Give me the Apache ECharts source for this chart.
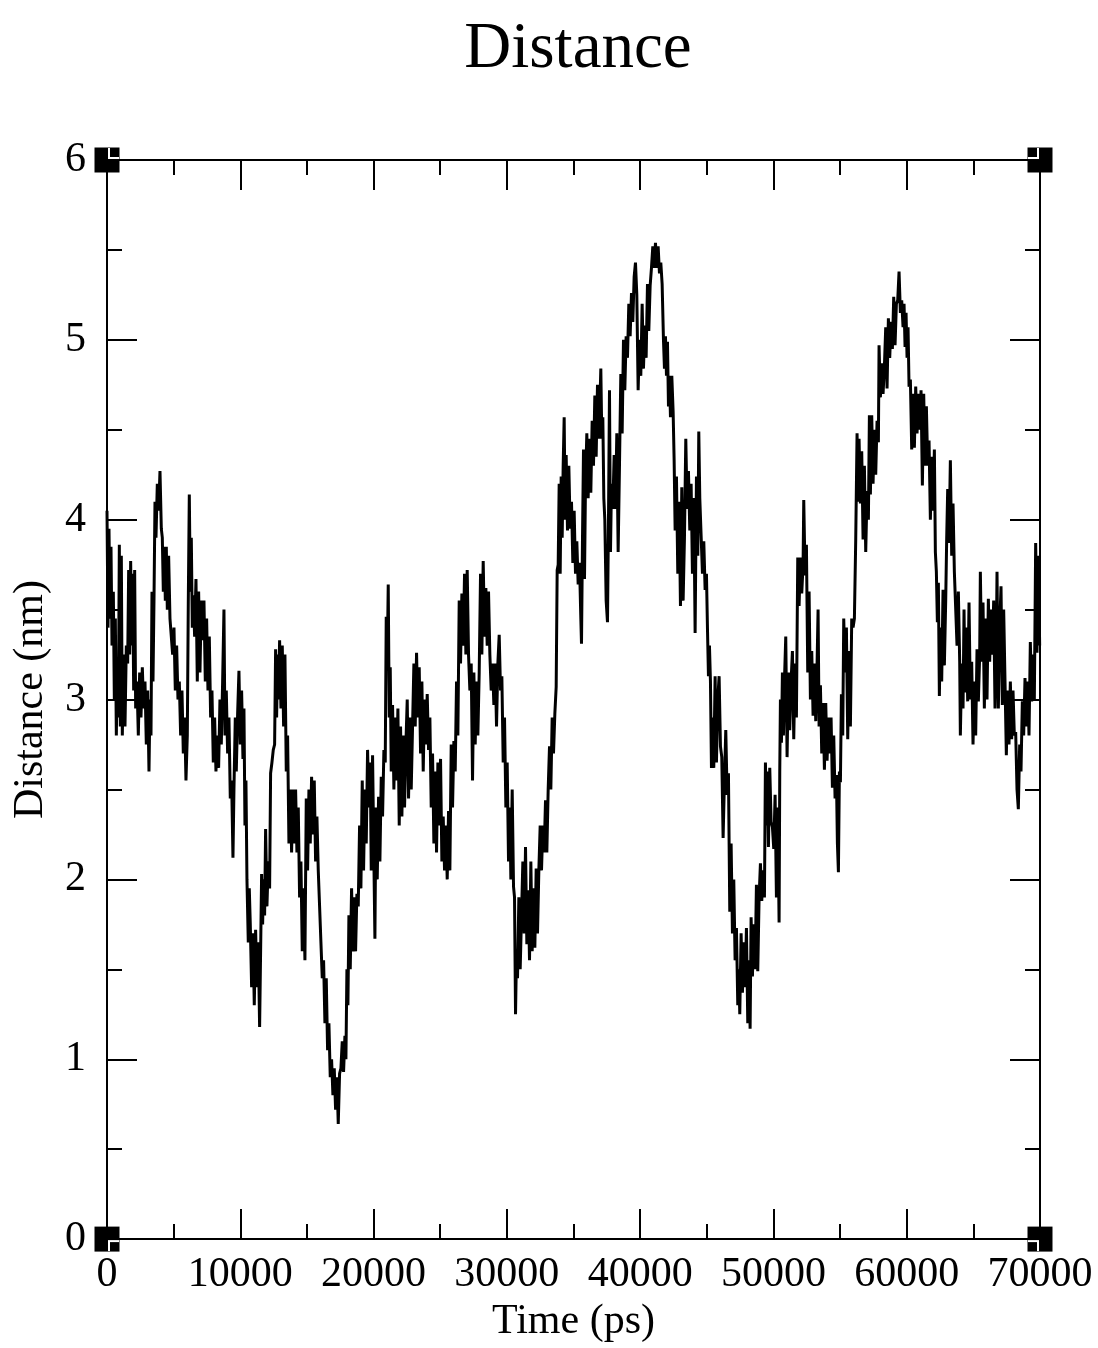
<!DOCTYPE html>
<html>
<head>
<meta charset="utf-8">
<script src="https://cdn.jsdelivr.net/npm/echarts@6/dist/echarts.min.js"></script>
<style>html,body{margin:0;padding:0;background:#fff;}#c{width:1098px;height:1348px;}</style>
</head>
<body>
<div id="c"></div>
<script>
const titleText = 'Distance';
const xAxisName = 'Time (ps)';
const yAxisName = 'Distance (nm)';
const xTicks = [0, 70000, 10000];
const yTicks = [0, 6, 1];

// [time (ps), distance (nm)], by 10 ns window
const seg0 = [[0,4.05],[75,3.4],[150,3.95],[225,3.45],[300,3.85],[375,3.3],[475,3.6],[550,3.0],[625,3.45],[700,2.8],[775,3.2],[850,2.9],[925,3.86],[1000,2.85],[1075,3.8],[1150,2.8],[1250,3.25],[1350,2.85],[1450,3.3],[1550,3.2],[1625,3.72],[1700,3.25],[1775,3.77],[1850,3.3],[1925,3.7],[2000,3.05],[2075,3.72],[2150,2.95],[2250,3.1],[2350,2.8],[2450,3.15],[2550,2.9],[2650,3.18],[2750,2.95],[2850,3.1],[2950,2.75],[3050,3.05],[3150,2.6],[3225,3.0],[3300,2.8],[3375,3.6],[3450,3.1],[3525,3.55],[3600,4.1],[3675,3.9],[3775,4.2],[3875,4.05],[3975,4.27],[4075,3.95],[4150,3.9],[4225,3.6],[4300,3.85],[4375,3.55],[4450,3.85],[4525,3.5],[4625,3.8],[4725,3.45],[4825,3.45],[4925,3.25],[5025,3.4],[5125,3.05],[5225,3.3],[5325,3.0],[5425,3.1],[5525,2.8],[5625,3.05],[5725,2.7],[5825,2.9],[5925,2.55],[6025,2.8],[6100,3.55],[6175,4.14],[6250,3.6],[6325,3.9],[6400,3.4],[6475,3.58],[6575,3.35],[6675,3.67],[6775,3.1],[6875,3.6],[6975,3.15],[7075,3.55],[7175,3.33],[7275,3.55],[7375,3.1],[7475,3.45],[7575,3.05],[7675,3.35],[7775,2.9],[7875,3.05],[7975,2.65],[8075,2.9],[8175,2.6],[8275,2.8],[8375,2.62],[8475,3.0],[8575,2.75],[8675,3.1],[8775,3.5],[8850,2.8],[8950,3.05],[9050,2.7],[9150,2.9],[9250,2.45],[9350,2.55],[9450,2.12],[9525,2.5],[9625,2.9]];
const seg1 = [[9700,2.6],[9800,2.92],[9900,3.16],[10000,2.75],[10100,3.05],[10200,2.67],[10275,2.95],[10350,2.3],[10425,2.55],[10500,2.0],[10600,1.65],[10675,1.95],[10750,1.75],[10850,1.4],[10950,1.7],[11050,1.3],[11150,1.72],[11250,1.4],[11350,1.65],[11450,1.18],[11525,1.6],[11600,2.03],[11675,1.75],[11750,2.0],[11825,1.8],[11900,2.28],[12000,1.85],[12100,2.1],[12200,1.95],[12275,2.59],[12375,2.65],[12475,2.72],[12575,2.75],[12650,3.28],[12725,2.9],[12800,3.25],[12875,3.0],[12950,3.33],[13050,2.95],[13150,3.3],[13250,2.85],[13350,3.25],[13450,2.6],[13550,2.8],[13650,2.2],[13750,2.5],[13850,2.15],[13950,2.5],[14050,2.2],[14150,2.5],[14250,2.15],[14350,2.4],[14450,1.9],[14550,2.1],[14650,1.6],[14750,1.95],[14850,1.55],[14950,2.45],[15050,2.05],[15150,2.5],[15250,2.2],[15350,2.57],[15450,2.25],[15550,2.55],[15650,2.1],[15750,2.35],[15850,2.05],[15950,1.85],[16050,1.65],[16150,1.45],[16250,1.55],[16350,1.2],[16450,1.45],[16550,1.05],[16650,1.2],[16750,0.9],[16850,1.0],[16950,0.8],[17050,0.95],[17150,0.72],[17250,0.9],[17350,0.64],[17450,0.92],[17550,0.95],[17650,1.1],[17750,0.93],[17850,1.13],[17925,1.0],[18000,1.5],[18075,1.3],[18150,1.8],[18250,1.5],[18350,1.95],[18450,1.6],[18550,1.9],[18650,1.6],[18750,1.92],[18850,1.85],[18950,2.3],[19050,1.95],[19150,2.55],[19250,2.05],[19350,2.5],[19450,2.2],[19550,2.72],[19650,2.4],[19750,2.65]];
const seg2 = [[19825,2.05],[19925,2.69],[20025,2.1],[20100,1.67],[20175,2.4],[20275,2.0],[20375,2.46],[20475,2.1],[20575,2.57],[20675,2.35],[20775,2.72],[20875,2.65],[20950,3.46],[21025,3.2],[21100,3.64],[21175,2.9],[21250,3.18],[21325,2.6],[21425,2.97],[21525,2.5],[21625,2.9],[21725,2.55],[21825,2.95],[21925,2.3],[22025,2.85],[22125,2.35],[22225,2.8],[22325,2.4],[22425,2.75],[22525,3.0],[22625,2.45],[22725,2.9],[22825,2.5],[22925,2.85],[23025,3.2],[23125,2.85],[23225,3.26],[23325,2.9],[23425,3.18],[23525,2.7],[23625,3.1],[23725,2.6],[23825,3.0],[23925,2.75],[24025,3.03],[24125,2.72],[24225,2.9],[24325,2.4],[24425,2.7],[24525,2.2],[24625,2.6],[24725,2.15],[24825,2.65],[24925,2.3],[25025,2.67],[25125,2.1],[25225,2.35],[25325,2.05],[25425,2.3],[25525,2.0],[25625,2.38],[25725,2.05],[25825,2.75],[25925,2.4],[26025,2.77],[26125,2.6],[26225,3.1],[26325,2.8],[26425,3.55],[26525,3.2],[26625,3.59],[26725,3.3],[26825,3.7],[26925,3.25],[27025,3.72],[27125,3.25],[27225,3.05],[27325,3.2],[27425,2.55],[27525,3.15],[27625,2.75],[27725,3.1],[27825,2.8],[27925,3.15],[28025,3.7],[28125,3.25],[28225,3.77],[28325,3.35],[28425,3.62],[28525,3.3],[28625,3.6],[28725,3.25],[28825,3.05],[28925,3.2],[29025,2.97],[29125,3.2],[29225,2.85],[29325,3.2],[29425,3.36],[29525,3.05],[29625,3.13],[29725,2.65],[29825,2.9],[29925,2.4],[30025,2.65],[30125,2.1],[30225,2.4]];
const seg3 = [[30300,2.0],[30400,2.5],[30500,1.96],[30575,1.9],[30650,1.25],[30725,1.6],[30800,1.45],[30900,1.9],[31000,1.5],[31100,1.8],[31200,2.1],[31300,1.7],[31400,2.18],[31500,1.64],[31600,1.94],[31700,1.55],[31800,2.1],[31900,1.6],[32000,1.95],[32100,1.62],[32200,2.06],[32300,1.7],[32400,2.05],[32500,2.3],[32600,2.05],[32700,2.3],[32800,2.15],[32900,2.44],[33000,2.15],[33100,2.5],[33200,2.74],[33300,2.5],[33400,2.9],[33500,2.7],[33600,2.92],[33700,3.07],[33775,3.72],[33850,3.75],[33925,4.2],[34000,3.7],[34075,4.24],[34150,3.9],[34225,4.3],[34300,4.57],[34375,4.0],[34450,4.36],[34550,3.94],[34650,4.3],[34750,3.95],[34850,4.1],[34950,3.76],[35050,4.05],[35150,3.7],[35250,3.88],[35350,3.64],[35450,3.76],[35550,3.45],[35600,3.31],[35675,3.9],[35750,4.39],[35825,3.67],[35900,4.2],[36000,4.48],[36100,4.12],[36200,4.45],[36300,4.15],[36400,4.55],[36500,4.3],[36600,4.69],[36700,4.35],[36800,4.75],[36900,4.45],[37000,4.7],[37050,4.84],[37125,4.45],[37200,4.57],[37275,4.12],[37350,4.0],[37450,3.55],[37550,3.43],[37625,4.0],[37700,4.72],[37775,3.82],[37850,4.2],[37950,4.06],[38050,4.36],[38150,4.06],[38250,4.48],[38350,3.82],[38450,4.3],[38550,4.81],[38650,4.48],[38750,5.0],[38850,4.72],[38950,5.02],[39050,4.9],[39150,5.2],[39250,5.02],[39350,5.26],[39450,5.1],[39550,5.35],[39650,5.43],[39750,5.25],[39850,4.72],[39950,5.0],[40050,4.8]];
const seg4 = [[40150,5.2],[40250,4.84],[40350,5.08],[40450,4.9],[40550,5.31],[40650,5.05],[40750,5.3],[40850,5.4],[40950,5.52],[41050,5.4],[41150,5.54],[41250,5.4],[41350,5.52],[41450,5.37],[41550,5.43],[41650,5.31],[41750,5.0],[41825,4.84],[41900,5.02],[41975,4.8],[42050,4.99],[42125,4.63],[42200,4.8],[42275,4.57],[42375,4.8],[42475,4.6],[42550,4.33],[42625,3.94],[42725,4.24],[42825,3.7],[42925,4.1],[43025,3.52],[43125,4.18],[43225,3.55],[43325,3.9],[43425,4.45],[43525,4.06],[43625,4.27],[43725,3.94],[43825,4.2],[43925,3.7],[44025,4.12],[44125,3.37],[44225,4.24],[44325,3.8],[44400,4.49],[44475,4.12],[44575,3.91],[44675,3.7],[44775,3.88],[44875,3.61],[44975,3.7],[45050,3.4],[45125,3.13],[45200,3.3],[45275,3.1],[45350,2.62],[45425,2.9],[45525,2.62],[45625,3.13],[45725,2.65],[45825,3.0],[45925,3.13],[46025,2.74],[46125,2.68],[46225,2.23],[46325,2.55],[46425,2.83],[46525,2.47],[46625,2.59],[46725,1.82],[46825,2.2],[46925,1.7],[47025,2.0],[47125,1.55],[47225,1.73],[47325,1.3],[47400,1.5],[47475,1.25],[47575,1.7],[47675,1.37],[47775,1.65],[47875,1.4],[47975,1.73],[48075,1.2],[48175,1.55],[48250,1.17],[48325,1.79],[48425,1.46],[48525,1.75],[48625,1.5],[48725,1.97],[48825,1.49],[48925,1.9],[49025,2.09],[49125,1.88],[49225,2.05],[49325,1.9],[49400,2.65],[49475,2.3],[49550,2.6],[49625,2.18],[49725,2.62],[49825,2.32],[49925,2.29],[50025,2.17],[50125,2.47],[50225,1.9],[50325,2.4],[50425,1.76]];
const seg5 = [[50475,2.6],[50525,3.0],[50600,2.76],[50675,3.15],[50750,2.8],[50825,3.1],[50925,3.35],[51025,2.68],[51125,3.15],[51225,2.83],[51325,3.1],[51425,3.27],[51525,2.78],[51625,3.2],[51725,2.9],[51825,3.79],[51925,3.52],[52025,3.79],[52125,3.59],[52225,3.75],[52275,4.11],[52375,3.69],[52475,3.86],[52575,3.15],[52675,3.6],[52775,3.0],[52875,3.27],[52975,2.91],[53075,3.2],[53175,2.88],[53275,3.2],[53350,3.5],[53425,2.85],[53525,3.08],[53625,2.7],[53725,2.98],[53825,2.61],[53925,2.98],[54025,2.66],[54125,2.9],[54225,2.7],[54325,2.9],[54425,2.51],[54525,2.8],[54625,2.45],[54725,2.58],[54800,2.2],[54875,2.04],[54950,2.6],[55025,2.54],[55100,3.03],[55200,2.8],[55275,3.45],[55375,3.15],[55475,3.4],[55575,2.78],[55675,3.27],[55775,2.85],[55875,3.45],[55975,3.4],[56075,3.45],[56175,3.89],[56275,4.48],[56350,4.1],[56425,4.45],[56525,4.09],[56625,4.38],[56725,3.89],[56825,4.3],[56925,3.82],[57025,4.16],[57125,4.0],[57200,4.58],[57275,4.14],[57375,4.58],[57475,4.2],[57575,4.5],[57675,4.25],[57775,4.55],[57875,4.43],[57925,4.97],[58025,4.68],[58125,4.87],[58225,4.7],[58325,4.85],[58425,5.07],[58525,4.73],[58625,5.12],[58725,4.9],[58825,5.1],[58925,4.95],[59025,5.24],[59125,4.97],[59225,5.2],[59325,5.22],[59425,5.38],[59525,5.15],[59625,5.22],[59725,5.07]];
const seg6 = [[59800,5.2],[59875,4.96],[59950,5.15],[60025,4.9],[60100,5.07],[60175,4.74],[60275,4.78],[60375,4.39],[60475,4.7],[60575,4.4],[60675,4.74],[60775,4.48],[60875,4.7],[60975,4.5],[61075,4.72],[61175,4.19],[61275,4.7],[61375,4.3],[61475,4.63],[61575,4.3],[61675,4.44],[61775,4.0],[61875,4.35],[61975,4.05],[62075,4.39],[62150,3.82],[62225,3.71],[62300,3.43],[62375,3.65],[62450,3.02],[62525,3.4],[62625,3.1],[62725,3.61],[62825,3.19],[62925,3.55],[63000,3.9],[63075,4.17],[63175,3.87],[63275,4.33],[63375,3.8],[63475,4.09],[63575,3.71],[63675,3.71],[63775,3.3],[63875,3.6],[63975,3.21],[64025,2.8],[64125,3.2],[64225,2.95],[64300,3.5],[64375,3.04],[64475,3.4],[64575,2.99],[64675,3.54],[64775,3.0],[64875,3.21],[64975,2.75],[65075,3.1],[65175,2.8],[65275,3.28],[65375,2.99],[65475,3.25],[65525,3.71],[65625,3.21],[65725,3.54],[65825,2.95],[65925,3.45],[66025,3.0],[66125,3.56],[66225,3.21],[66325,3.5],[66425,3.25],[66525,3.55],[66625,2.95],[66725,3.3],[66775,3.71],[66875,2.95],[66975,3.4],[67075,3.63],[67175,2.97],[67275,3.5],[67375,3.1],[67475,2.69],[67575,3.05],[67675,2.75],[67775,3.1],[67875,2.78],[67975,3.05],[68075,2.8],[68175,2.82],[68275,2.5],[68375,2.39],[68475,2.75],[68575,2.6],[68675,2.99],[68775,2.8],[68875,3.12],[68975,2.85],[69075,3.1],[69175,2.8],[69275,3.32],[69375,2.99],[69475,3.25],[69575,3.0],[69675,3.87],[69775,3.26],[69875,3.8],[69975,3.3]];

const trace = [].concat(seg0, seg1, seg2, seg3, seg4, seg5, seg6);

const FONT = '"Liberation Serif", "DejaVu Serif", serif';
const axisLine = { show: true, onZero: false, lineStyle: { color: '#000', width: 2 } };
const axisTick = { show: true, inside: true, length: 30, lineStyle: { color: '#000', width: 2 } };
const minorTick = { show: true, splitNumber: 2, length: 15, lineStyle: { color: '#000', width: 2 } };

function xAx(pos, labels) {
  return {
    type: 'value', position: pos, min: xTicks[0], max: xTicks[1], interval: xTicks[2],
    axisLine, axisTick, minorTick, splitLine: { show: false },
    axisLabel: { show: labels, color: '#000', fontFamily: FONT, fontSize: 42, margin: 15,
      formatter: v => String(v) },
    name: labels ? xAxisName : '', nameLocation: 'middle', nameGap: 57,
    nameTextStyle: { color: '#000', fontFamily: FONT, fontSize: 42 }
  };
}
function yAx(pos, labels) {
  return {
    type: 'value', position: pos, min: yTicks[0], max: yTicks[1], interval: yTicks[2],
    axisLine, axisTick, minorTick, splitLine: { show: false },
    axisLabel: { show: labels, color: '#000', fontFamily: FONT, fontSize: 42, margin: 21,
      padding: [8, 0, 0, 0], formatter: v => String(v) },
    name: labels ? yAxisName : '', nameLocation: 'middle', nameGap: 55,
    nameTextStyle: { color: '#000', fontFamily: FONT, fontSize: 42 }
  };
}

// corner markers (plot frame corners), notch direction points into the plot
const corners = [[xTicks[0], yTicks[0], 1, -1], [xTicks[0], yTicks[1], 1, 1], [xTicks[1], yTicks[0], -1, -1], [xTicks[1], yTicks[1], -1, 1]];

const chart = echarts.init(document.getElementById('c'), null, { renderer: 'canvas' });
chart.setOption({
  animation: false,
  backgroundColor: '#fff',
  title: {
    text: titleText, left: 573, top: 12, textAlign: 'center',
    textStyle: { color: '#000', fontFamily: FONT, fontSize: 65, fontWeight: 'normal' }
  },
  grid: { left: 107, right: 58, top: 160, bottom: 101, containLabel: false },
  xAxis: [xAx('bottom', true), xAx('top', false)],
  yAxis: [yAx('left', true), yAx('right', false)],
  series: [
    {
      type: 'line', data: trace, showSymbol: false, symbol: 'none', sampling: null,
      lineStyle: { color: '#000', width: 3 }, z: 3
    },
    {
      type: 'scatter', clip: false, z: 5, silent: true,
      data: corners.map(c => ({ value: [c[0], c[1]], symbol: 'rect', symbolSize: 25 })),
      itemStyle: { color: '#000', opacity: 1 }
    },
    {
      type: 'scatter', clip: false, z: 6, silent: true,
      data: corners.map(c => ({ value: [c[0], c[1]], symbol: 'rect', symbolSize: 11, symbolOffset: [6.5 * c[2], -6.5 * c[3]] })),
      itemStyle: { color: '#fff', opacity: 1 }
    },
    {
      type: 'scatter', clip: false, z: 7, silent: true,
      data: corners.map(c => ({ value: [c[0], c[1]], symbol: 'rect', symbolSize: 9, symbolOffset: [7.5 * c[2], -7.5 * c[3]] })),
      itemStyle: { color: '#000', opacity: 1 }
    }
  ]
});
</script>
</body>
</html>
